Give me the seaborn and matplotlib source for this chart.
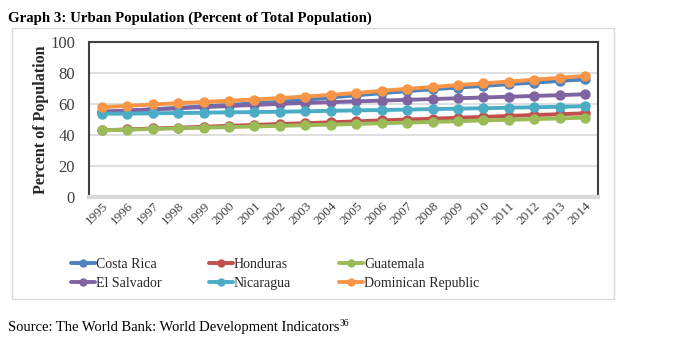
import matplotlib
matplotlib.use("Agg")
import matplotlib.pyplot as plt
import seaborn as sns
import pandas as pd
from matplotlib.patches import Rectangle
from matplotlib.lines import Line2D

years = [str(y) for y in range(1995, 2015)]
costa_rica = [54.8, 55.7, 56.6, 57.5, 58.5, 59.4, 60.4, 61.4, 62.8, 64.2,
              65.6, 67.0, 68.3, 69.5, 70.6, 71.7, 72.8, 73.8, 74.9, 75.9]
honduras = [43.0, 43.6, 44.2, 44.7, 45.3, 45.9, 46.5, 47.1, 47.6, 48.2,
            48.8, 49.4, 50.0, 50.5, 51.1, 51.7, 52.3, 52.9, 53.4, 54.0]
guatemala = [43.0, 43.4, 43.9, 44.3, 44.7, 45.1, 45.5, 45.9, 46.3, 46.7,
             47.1, 47.6, 48.0, 48.4, 48.9, 49.4, 49.8, 50.3, 50.7, 51.2]
el_salvador = [55.0, 55.7, 56.5, 57.3, 58.0, 58.7, 59.4, 60.1, 60.7, 61.2,
               61.7, 62.2, 62.7, 63.2, 63.7, 64.2, 64.7, 65.2, 65.7, 66.3]
nicaragua = [53.7, 53.8, 54.0, 54.2, 54.4, 54.6, 54.8, 55.0, 55.3, 55.6,
             55.9, 56.1, 56.4, 56.7, 57.0, 57.3, 57.6, 57.9, 58.2, 58.6]
dominican = [57.9, 58.8, 59.7, 60.5, 61.3, 62.1, 62.9, 63.8, 64.8, 65.9,
             67.1, 68.5, 69.8, 71.0, 72.2, 73.3, 74.5, 75.7, 76.9, 78.1]

countries = ["Costa Rica", "Honduras", "Guatemala",
             "El Salvador", "Nicaragua", "Dominican Republic"]
series = [costa_rica, honduras, guatemala, el_salvador, nicaragua, dominican]
colors = ["#4F81BD", "#C0504D", "#9BBB59", "#8064A2", "#4BACC6", "#F79646"]

rows = []
for c, vals in zip(countries, series):
    for y, v in zip(years, vals):
        rows.append({"Year": y, "Value": v, "Country": c})
df = pd.DataFrame(rows)

sns.set_theme(style="white")
plt.rcParams["font.family"] = ["Liberation Serif", "DejaVu Serif"]

fig = plt.figure(figsize=(6.91, 3.49), dpi=100)
W, H = 691, 349
ax = fig.add_axes([89 / W, 1 - 197 / H, (598 - 89) / W, (197 - 42) / H])

# outer chart frame
fig.patches.append(Rectangle((12 / W, 1 - 299 / H), (614 - 12) / W, (299 - 28) / H,
                             transform=fig.transFigure, fill=False,
                             edgecolor="#D9D9D9", linewidth=1.0, zorder=0))

sns.lineplot(data=df, x="Year", y="Value", hue="Country", hue_order=countries,
             palette=colors, marker="o", markersize=7.5, markeredgewidth=0,
             linewidth=2.8, ax=ax, legend=False, sort=False)

ax.set_ylim(0, 100)
ax.set_xlim(-0.5, 19.5)
ax.set_yticks([0, 20, 40, 60, 80, 100])
ax.yaxis.grid(True, color="#D9D9D9", linewidth=1.2)
ax.set_axisbelow(True)
ax.tick_params(axis="y", labelsize=12, colors="#404040", length=0, pad=10)
ax.tick_params(axis="x", labelsize=9.5, colors="#404040", length=0, pad=2)
for lbl in ax.get_xticklabels():
    lbl.set_rotation(45)
    lbl.set_ha("right")
    lbl.set_rotation_mode("anchor")
for s in ["left", "top", "right"]:
    ax.spines[s].set_color("#404040")
    ax.spines[s].set_linewidth(1.5)
ax.spines["bottom"].set_color("#D9D9D9")
ax.spines["bottom"].set_linewidth(3)
ax.set_xlabel("")
ax.set_ylabel("Percent of Population", fontsize=11.5, fontweight="bold",
              color="#262626", labelpad=1)

handles = {c: Line2D([], [], color=col, linewidth=2.8, marker="o", markersize=6,
                     markeredgewidth=0)
           for c, col in zip(countries, colors)}
order = ["Costa Rica", "El Salvador", "Honduras", "Nicaragua",
         "Guatemala", "Dominican Republic"]
fig.legend([handles[c] for c in order], order, ncol=3,
           loc="upper left", bbox_to_anchor=(58 / W, 1 - 245 / H),
           frameon=False, fontsize=10, handlelength=1.75, handletextpad=0.05,
           columnspacing=3.45, labelspacing=0.45, labelcolor="#262626")

fig.text(8 / W, 1 - 18 / H, "Graph 3: Urban Population (Percent of Total Population)",
         fontsize=10.7, fontweight="bold", va="center", ha="left", color="black")
src = fig.text(8 / W, 1 - 328 / H,
               "Source: The World Bank: World Development Indicators",
               fontsize=10.5, va="center", ha="left", color="black")
fig.canvas.draw()
bb = src.get_window_extent(renderer=fig.canvas.get_renderer())
fig.text(bb.x1 / W / (fig.dpi / 100), 1 - 323 / H, "36", fontsize=7,
         va="center", ha="left", color="black")

fig.savefig("out.png", dpi=100)
